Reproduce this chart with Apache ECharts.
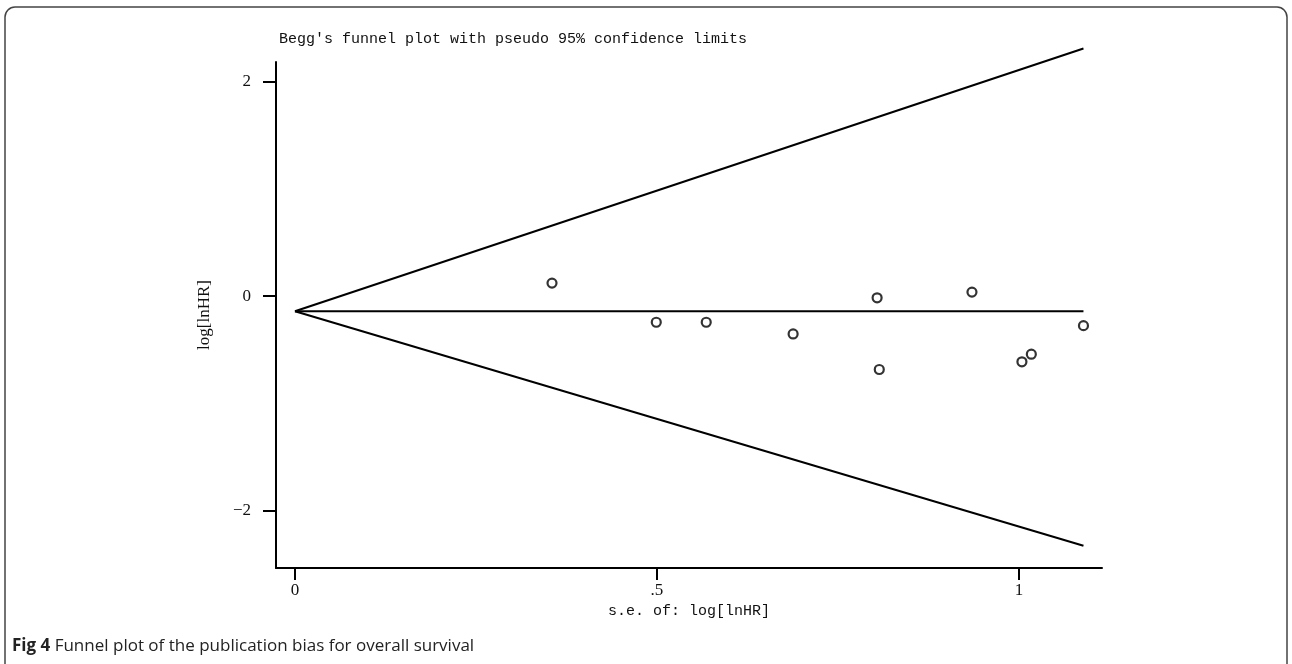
<!DOCTYPE html>
<html>
<head>
<meta charset="utf-8">
<script src="https://cdn.jsdelivr.net/npm/echarts@6/dist/echarts.min.js"></script>
<style>
html,body{margin:0;padding:0;background:#fff;}
#c{width:1292px;height:664px;}
</style>
</head>
<body>
<div id="c"></div>
<script>
// Study points: [s.e. of log[lnHR], log[lnHR]]
const studies = [
  [0.355, 0.121],
  [0.499, -0.244],
  [0.568, -0.244],
  [0.688, -0.353],
  [0.804, -0.016],
  [0.807, -0.685],
  [0.935, 0.037],
  [1.004, -0.613],
  [1.017, -0.542],
  [1.089, -0.276]
];
// Pooled estimate line
const pooledLine = [[0, -0.142], [1.089, -0.142]];
// Pseudo 95% confidence limits
const upperLimit = [[0, -0.142], [1.089, 2.31]];
const lowerLimit = [[0, -0.142], [1.089, -2.33]];
// Tick values
const xTicks = [0, 0.5, 1];
const xTickLabels = {0: '0', 0.5: '.5', 1: '1'};
const yTicks = [-2, 0, 2];
const yTickLabels = {'-2': '\u22122', '0': '0', '2': '2'};

const chart = echarts.init(document.getElementById('c'));
const mono = '"Liberation Mono", "DejaVu Sans Mono", monospace';
const serif = '"Liberation Serif", "DejaVu Serif", serif';
const lineSeries = (d) => ({
  type: 'line', data: d, symbol: 'none', clip: false, silent: true,
  lineStyle: {color: '#000', width: 2}, z: 2
});
chart.setOption({
  animation: false,
  backgroundColor: '#fff',
  title: {
    text: "Begg's funnel plot with pseudo 95% confidence limits",
    left: 274, top: 27,
    textStyle: {fontFamily: mono, fontSize: 15, fontWeight: 'normal', color: '#111'}
  },
  grid: {left: 276, right: 190, top: 62, bottom: 96, containLabel: false},
  xAxis: {
    type: 'value', min: -0.0262, max: 1.1146,
    name: 's.e. of: log[lnHR]', nameLocation: 'middle', nameGap: 32,
    nameTextStyle: {fontFamily: mono, fontSize: 15, color: '#111'},
    axisLine: {show: true, onZero: false, lineStyle: {color: '#000', width: 2}},
    axisTick: {show: true, length: 12, lineStyle: {color: '#000', width: 2}, customValues: xTicks},
    axisLabel: {margin: 14, fontFamily: serif, fontSize: 17, color: '#111', customValues: xTicks,
      formatter: v => xTickLabels[v] !== undefined ? xTickLabels[v] : ''},
    splitLine: {show: false}
  },
  yAxis: {
    type: 'value', min: -2.537, max: 2.184,
    name: 'log[lnHR]', nameLocation: 'middle', nameGap: 63, nameRotate: 90,
    nameTextStyle: {fontFamily: serif, fontSize: 17, color: '#111'},
    axisLine: {show: true, onZero: false, lineStyle: {color: '#000', width: 2}},
    axisTick: {show: true, length: 13, lineStyle: {color: '#000', width: 2}, customValues: yTicks},
    axisLabel: {margin: 25, fontFamily: serif, fontSize: 17, color: '#111', customValues: yTicks,
      formatter: v => yTickLabels[String(v)] !== undefined ? yTickLabels[String(v)] : ''},
    splitLine: {show: false}
  },
  series: [
    lineSeries(pooledLine),
    lineSeries(upperLimit),
    lineSeries(lowerLimit),
    {
      type: 'scatter', data: studies, symbol: 'circle', symbolSize: 9, z: 3,
      itemStyle: {color: '#fff', borderColor: '#000', borderWidth: 2.2}
    }
  ],
  graphic: [
    {
      type: 'rect', z: -1, silent: true,
      shape: {x: 5, y: 7, width: 1282, height: 700, r: 10},
      style: {fill: 'none', stroke: '#444', lineWidth: 1.5}
    },
    {
      type: 'text', left: 12, top: 638, silent: true,
      style: {
        text: '{b|Fig 4} Funnel plot of the publication bias for overall survival',
        rich: {
          b: {fontFamily: '"Open Sans", "Noto Sans", sans-serif', fontSize: 17, fontWeight: 'bold', fill: '#222'}
        },
        fontFamily: '"Open Sans", "Noto Sans", sans-serif', fontSize: 17, fill: '#222'
      }
    }
  ]
});
</script>
</body>
</html>
